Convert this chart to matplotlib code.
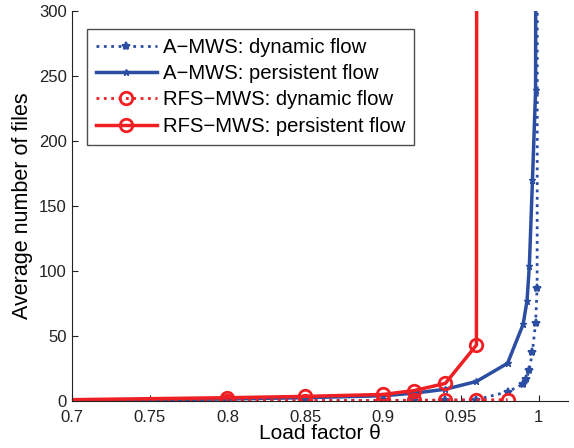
import matplotlib.pyplot as plt

plt.rcParams['font.family'] = ['Liberation Sans', 'DejaVu Sans']

# A-MWS
a_dyn_x = [0.7, 0.8, 0.85, 0.9, 0.92, 0.94, 0.96, 0.98, 0.99, 0.992, 0.994, 0.996, 0.998, 0.999, 0.9995]
a_dyn_y = [0.1, 0.2, 0.3, 0.4, 0.5, 0.6, 1.0, 7, 13, 17, 24, 38, 60, 87, 1000]
a_per_x = [0.7, 0.8, 0.85, 0.9, 0.92, 0.94, 0.96, 0.98, 0.99, 0.9925, 0.994, 0.996, 0.998, 0.999]
a_per_y = [0.5, 1.5, 2.5, 4, 6, 9, 15, 29, 59, 77, 104, 170, 239, 1000]

# RFS-MWS
r_dyn_x = [0.7, 0.8, 0.85, 0.9, 0.92, 0.94, 0.96, 0.98]
r_dyn_y = [0.2, 0.3, 0.3, 0.4, 0.5, 0.6, 0.8, 1.0]
r_per_x = [0.7, 0.8, 0.85, 0.9, 0.92, 0.94, 0.96, 0.9605]
r_per_y = [1.0, 2.5, 3.5, 5, 8, 13.5, 43, 1000]

blue = '#2b4ea2'
red = '#ee2024'

fig = plt.figure(figsize=(5.74, 4.48), dpi=100)
ax = fig.add_axes([0.125, 0.105, 0.865, 0.87])

ax.plot(a_dyn_x, a_dyn_y, ':', color=blue, lw=2, marker='*', ms=6, mew=1.5,
        markevery=slice(1, None), label='A\u2212MWS: dynamic flow')
ax.plot(a_per_x, a_per_y, '-', color=blue, lw=2.5, marker='*', ms=5, mew=1,
        markevery=slice(1, None), label='A\u2212MWS: persistent flow')
ax.plot(r_dyn_x, r_dyn_y, ':', color=red, lw=2, marker='o', ms=9, mew=2,
        mfc='none', markevery=slice(1, None), label='RFS\u2212MWS: dynamic flow')
ax.plot(r_per_x, r_per_y, '-', color=red, lw=2.5, marker='o', ms=9, mew=2,
        mfc='none', markevery=slice(1, 7), label='RFS\u2212MWS: persistent flow')

ax.set_xlim(0.7, 1.019)
ax.set_ylim(0, 300)
ax.set_xticks([0.7, 0.75, 0.8, 0.85, 0.9, 0.95, 1.0])
ax.set_xticklabels(['0.7', '0.75', '0.8', '0.85', '0.9', '0.95', '1'])
ax.set_yticks(range(0, 301, 50))
ax.tick_params(direction='in', labelsize=12, length=4, colors='#222222')
ax.tick_params(axis='x', pad=6.5)
ax.spines['top'].set_visible(False)
ax.spines['right'].set_visible(False)
for s in ('left', 'bottom'):
    ax.spines[s].set_color('#222222')
    ax.spines[s].set_linewidth(0.8)

ax.set_xlabel('Load factor \u03b8', fontsize=15, labelpad=-1)
ax.set_ylabel('Average number of files', fontsize=15.5, labelpad=4)

leg = ax.legend(loc='upper left', bbox_to_anchor=(0.03, 0.955), fontsize=14.6,
                frameon=True, fancybox=False, edgecolor='#222222',
                handlelength=3, handletextpad=0.3, borderpad=0.45,
                labelspacing=0.36, borderaxespad=0)
leg.get_frame().set_linewidth(1.0)

fig.savefig('out.png', dpi=100)
